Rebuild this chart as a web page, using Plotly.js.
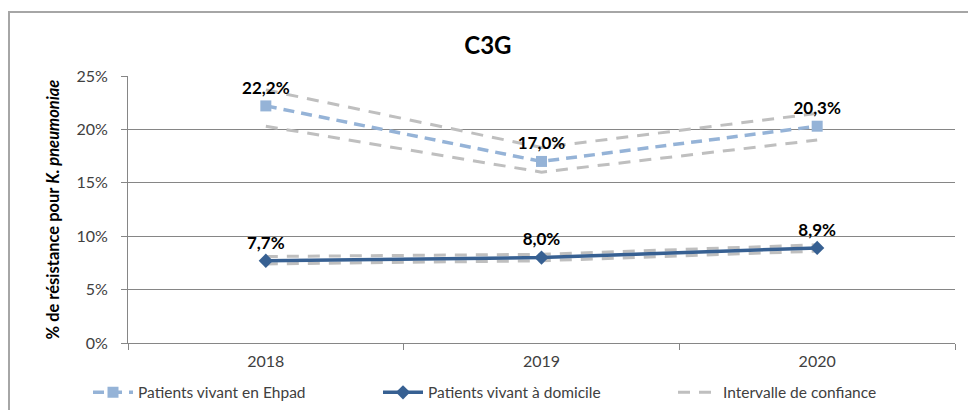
<!DOCTYPE html>
<html>
<head>
<meta charset="utf-8">
<script src="https://cdn.plot.ly/plotly-3.0.1.min.js"></script>
<style>html,body{margin:0;padding:0;background:#fff;}#chart{width:968px;height:410px;}</style>
</head>
<body>
<div id="chart"></div>
<script>
const years = ['2018', '2019', '2020'];
const ehpad = [22.2, 17.0, 20.3];
const ehpadLow = [20.3, 16.0, 19.0];
const ehpadHigh = [23.7, 18.3, 21.5];
const domicile = [7.7, 8.0, 8.9];
const domicileLow = [7.4, 7.7, 8.6];
const domicileHigh = [8.1, 8.3, 9.2];
const seriesNames = ['Patients vivant en Ehpad', 'Patients vivant à domicile', 'Intervalle de confiance'];
const titleText = 'C3G';
const yTitle = '<b>% de résistance pour <i>K. pneumoniae</i></b>';

const FONT = 'Lato, "Open Sans", sans-serif';
const ciLine = {color: '#bfbfbf', width: 3, dash: '12px,9px'};

function ciTrace(y, show) {
  return {
    x: years, y: y, type: 'scatter', mode: 'lines',
    name: seriesNames[2], legendgroup: 'ci', showlegend: show, legend: 'legend3',
    line: ciLine, hoverinfo: 'skip'
  };
}

const labelFont = {family: FONT, size: 17, color: '#000', weight: 'bold'};

const traces = [
  ciTrace(ehpadHigh, true),
  ciTrace(ehpadLow, false),
  ciTrace(domicileHigh, false),
  ciTrace(domicileLow, false),
  {
    x: years, y: ehpad, type: 'scatter', mode: 'lines+markers+text',
    name: seriesNames[0], legend: 'legend',
    line: {color: '#95b3d7', width: 3.5, dash: '11px,7px'},
    marker: {symbol: 'square', size: 11, color: '#95b3d7'},
    texttemplate: '%{y:.1f}%', textposition: 'top center',
    textfont: labelFont
  },
  {
    x: years, y: domicile, type: 'scatter', mode: 'lines+markers+text',
    name: seriesNames[1], legend: 'legend2',
    line: {color: '#376092', width: 3.5},
    marker: {symbol: 'diamond', size: 11, color: '#376092'},
    texttemplate: '%{y:.1f}%', textposition: 'top center',
    textfont: labelFont
  }
];

function legendAt(px) {
  return {
    orientation: 'h', xref: 'container', x: px / 968, xanchor: 'left',
    yref: 'container', y: 0.042, yanchor: 'middle',
    font: {family: FONT, size: 15.5, color: '#404040'},
    itemwidth: 40, bgcolor: 'rgba(0,0,0,0)'
  };
}

const layout = {
  width: 968, height: 410,
  margin: {l: 128, r: 13, t: 76, b: 67, autoexpand: false},
  paper_bgcolor: '#fff', plot_bgcolor: '#fff',
  separators: ', ',
  font: {family: FONT, size: 14, color: '#404040'},
  title: {text: '<b>' + titleText + '</b>', x: 0.504, xanchor: 'center', y: 0.89, yanchor: 'middle',
          font: {family: FONT, size: 24, color: '#000'}},
  xaxis: {
    type: 'category', range: [-0.5, 2.5], tickson: 'boundaries',
    ticks: 'outside', ticklen: 6, tickcolor: '#868686',
    showline: true, linecolor: '#868686', linewidth: 1,
    showgrid: false, zeroline: false, ticklabelstandoff: 4,
    tickfont: {family: FONT, size: 16, color: '#404040'}
  },
  yaxis: {
    range: [0, 25], dtick: 5, ticksuffix: '%',
    ticks: 'outside', ticklen: 6, tickcolor: '#868686',
    showline: true, linecolor: '#868686', linewidth: 1,
    showgrid: true, gridcolor: '#868686', gridwidth: 1, zeroline: false,
    ticklabelstandoff: 10,
    tickfont: {family: FONT, size: 16, color: '#404040'},
    title: {text: yTitle, standoff: 12, font: {family: FONT, size: 16.5, color: '#000'}}
  },
  legend: legendAt(88),
  legend2: legendAt(378),
  legend3: legendAt(673),
  shapes: [{
    type: 'rect', xref: 'paper', yref: 'paper',
    x0: (9 - 128) / 827, x1: 1.3,
    y0: -0.6, y1: (343 - 12) / 267,
    line: {color: '#a6a6a6', width: 2}, fillcolor: 'rgba(0,0,0,0)', layer: 'below'
  }],
  showlegend: true
};

Plotly.newPlot('chart', traces, layout, {displayModeBar: false, staticPlot: true});
</script>
</body>
</html>
